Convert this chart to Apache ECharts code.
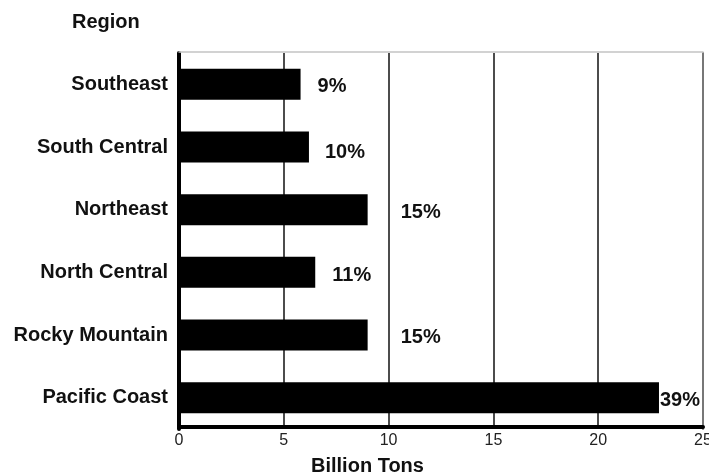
<!DOCTYPE html>
<html>
<head>
<meta charset="utf-8">
<title>Reserves by Region</title>
<script src="https://cdn.jsdelivr.net/npm/echarts@6/dist/echarts.min.js"></script>
<style>
  html, body { margin: 0; padding: 0; background: #fff; }
  #chart { width: 709px; height: 475px; }
</style>
</head>
<body>
<div id="chart"></div>
<script>
// Regions, from top to bottom
const regions = ['Southeast', 'South Central', 'Northeast', 'North Central', 'Rocky Mountain', 'Pacific Coast'];
// Reserves per region, billion tons
const reserves = [5.8, 6.2, 9.0, 6.5, 9.0, 22.9];
// Share of the national total, percent
const shares = [9, 10, 15, 11, 15, 39];
// Horizontal axis range and step
const axisMin = 0;
const axisMax = 25;
const axisStep = 5;

// Per-bar nudge of the percentage label [dx, dy]
const labelNudges = [[17, 2], [16, 5], [33, 3], [17, 3], [33, 2], [1, 3]];

const FONT = '"Liberation Sans", Arial, Helvetica, sans-serif';

const chart = echarts.init(document.getElementById('chart'), null, { renderer: 'canvas' });

chart.setOption({
  backgroundColor: '#ffffff',
  animation: false,
  textStyle: { fontFamily: FONT },
  title: [
    {
      text: 'Region',
      left: 72, top: 12, padding: 0,
      textStyle: { fontFamily: FONT, fontSize: 20, fontWeight: 'bold', color: '#111' }
    },
    {
      text: 'Billion Tons',
      left: 311, top: 456, padding: 0,
      textStyle: { fontFamily: FONT, fontSize: 20, fontWeight: 'bold', color: '#111' }
    }
  ],
  grid: {
    left: 179, right: 6, top: 53, height: 376,
    containLabel: false,
    outerBoundsMode: 'none'
  },
  xAxis: [
    {
      type: 'value',
      position: 'bottom',
      offset: -2.5,
      min: axisMin, max: axisMax, interval: axisStep,
      axisLine: { show: true, lineStyle: { color: '#000', width: 4 } },
      axisTick: { show: false },
      axisLabel: { margin: 6, fontSize: 16, color: '#222', fontFamily: FONT },
      splitLine: { show: true, lineStyle: { color: '#111', width: 1.5 } }
    },
    {
      type: 'value',
      position: 'top',
      offset: 1,
      min: axisMin, max: axisMax, interval: axisStep,
      axisLine: { show: true, lineStyle: { color: '#c4c4c4', width: 1.5 } },
      axisTick: { show: false },
      axisLabel: { show: false },
      splitLine: { show: false }
    }
  ],
  yAxis: [
    {
      type: 'category',
      data: regions,
      inverse: true,
      position: 'left',
      axisLine: { show: true, onZero: false, lineStyle: { color: '#000', width: 4 } },
      axisTick: { show: false },
      axisLabel: {
        margin: 11, fontSize: 20, fontWeight: 'bold', color: '#111', fontFamily: FONT
      },
      splitLine: { show: false }
    },
    {
      type: 'category',
      data: regions,
      inverse: true,
      position: 'right',
      axisLine: { show: true, onZero: false, lineStyle: { color: '#777', width: 2 } },
      axisTick: { show: false },
      axisLabel: { show: false },
      splitLine: { show: false }
    }
  ],
  series: [
    {
      type: 'bar',
      xAxisIndex: 0,
      yAxisIndex: 0,
      barWidth: 31,
      itemStyle: { color: '#000' },
      data: reserves.map((v, i) => ({
        value: v,
        label: { offset: labelNudges[i] }
      })),
      label: {
        show: true,
        position: 'right',
        distance: 0,
        fontSize: 20,
        fontWeight: 'bold',
        color: '#111',
        fontFamily: FONT,
        formatter: p => shares[p.dataIndex] + '%'
      }
    }
  ]
});
</script>
</body>
</html>
